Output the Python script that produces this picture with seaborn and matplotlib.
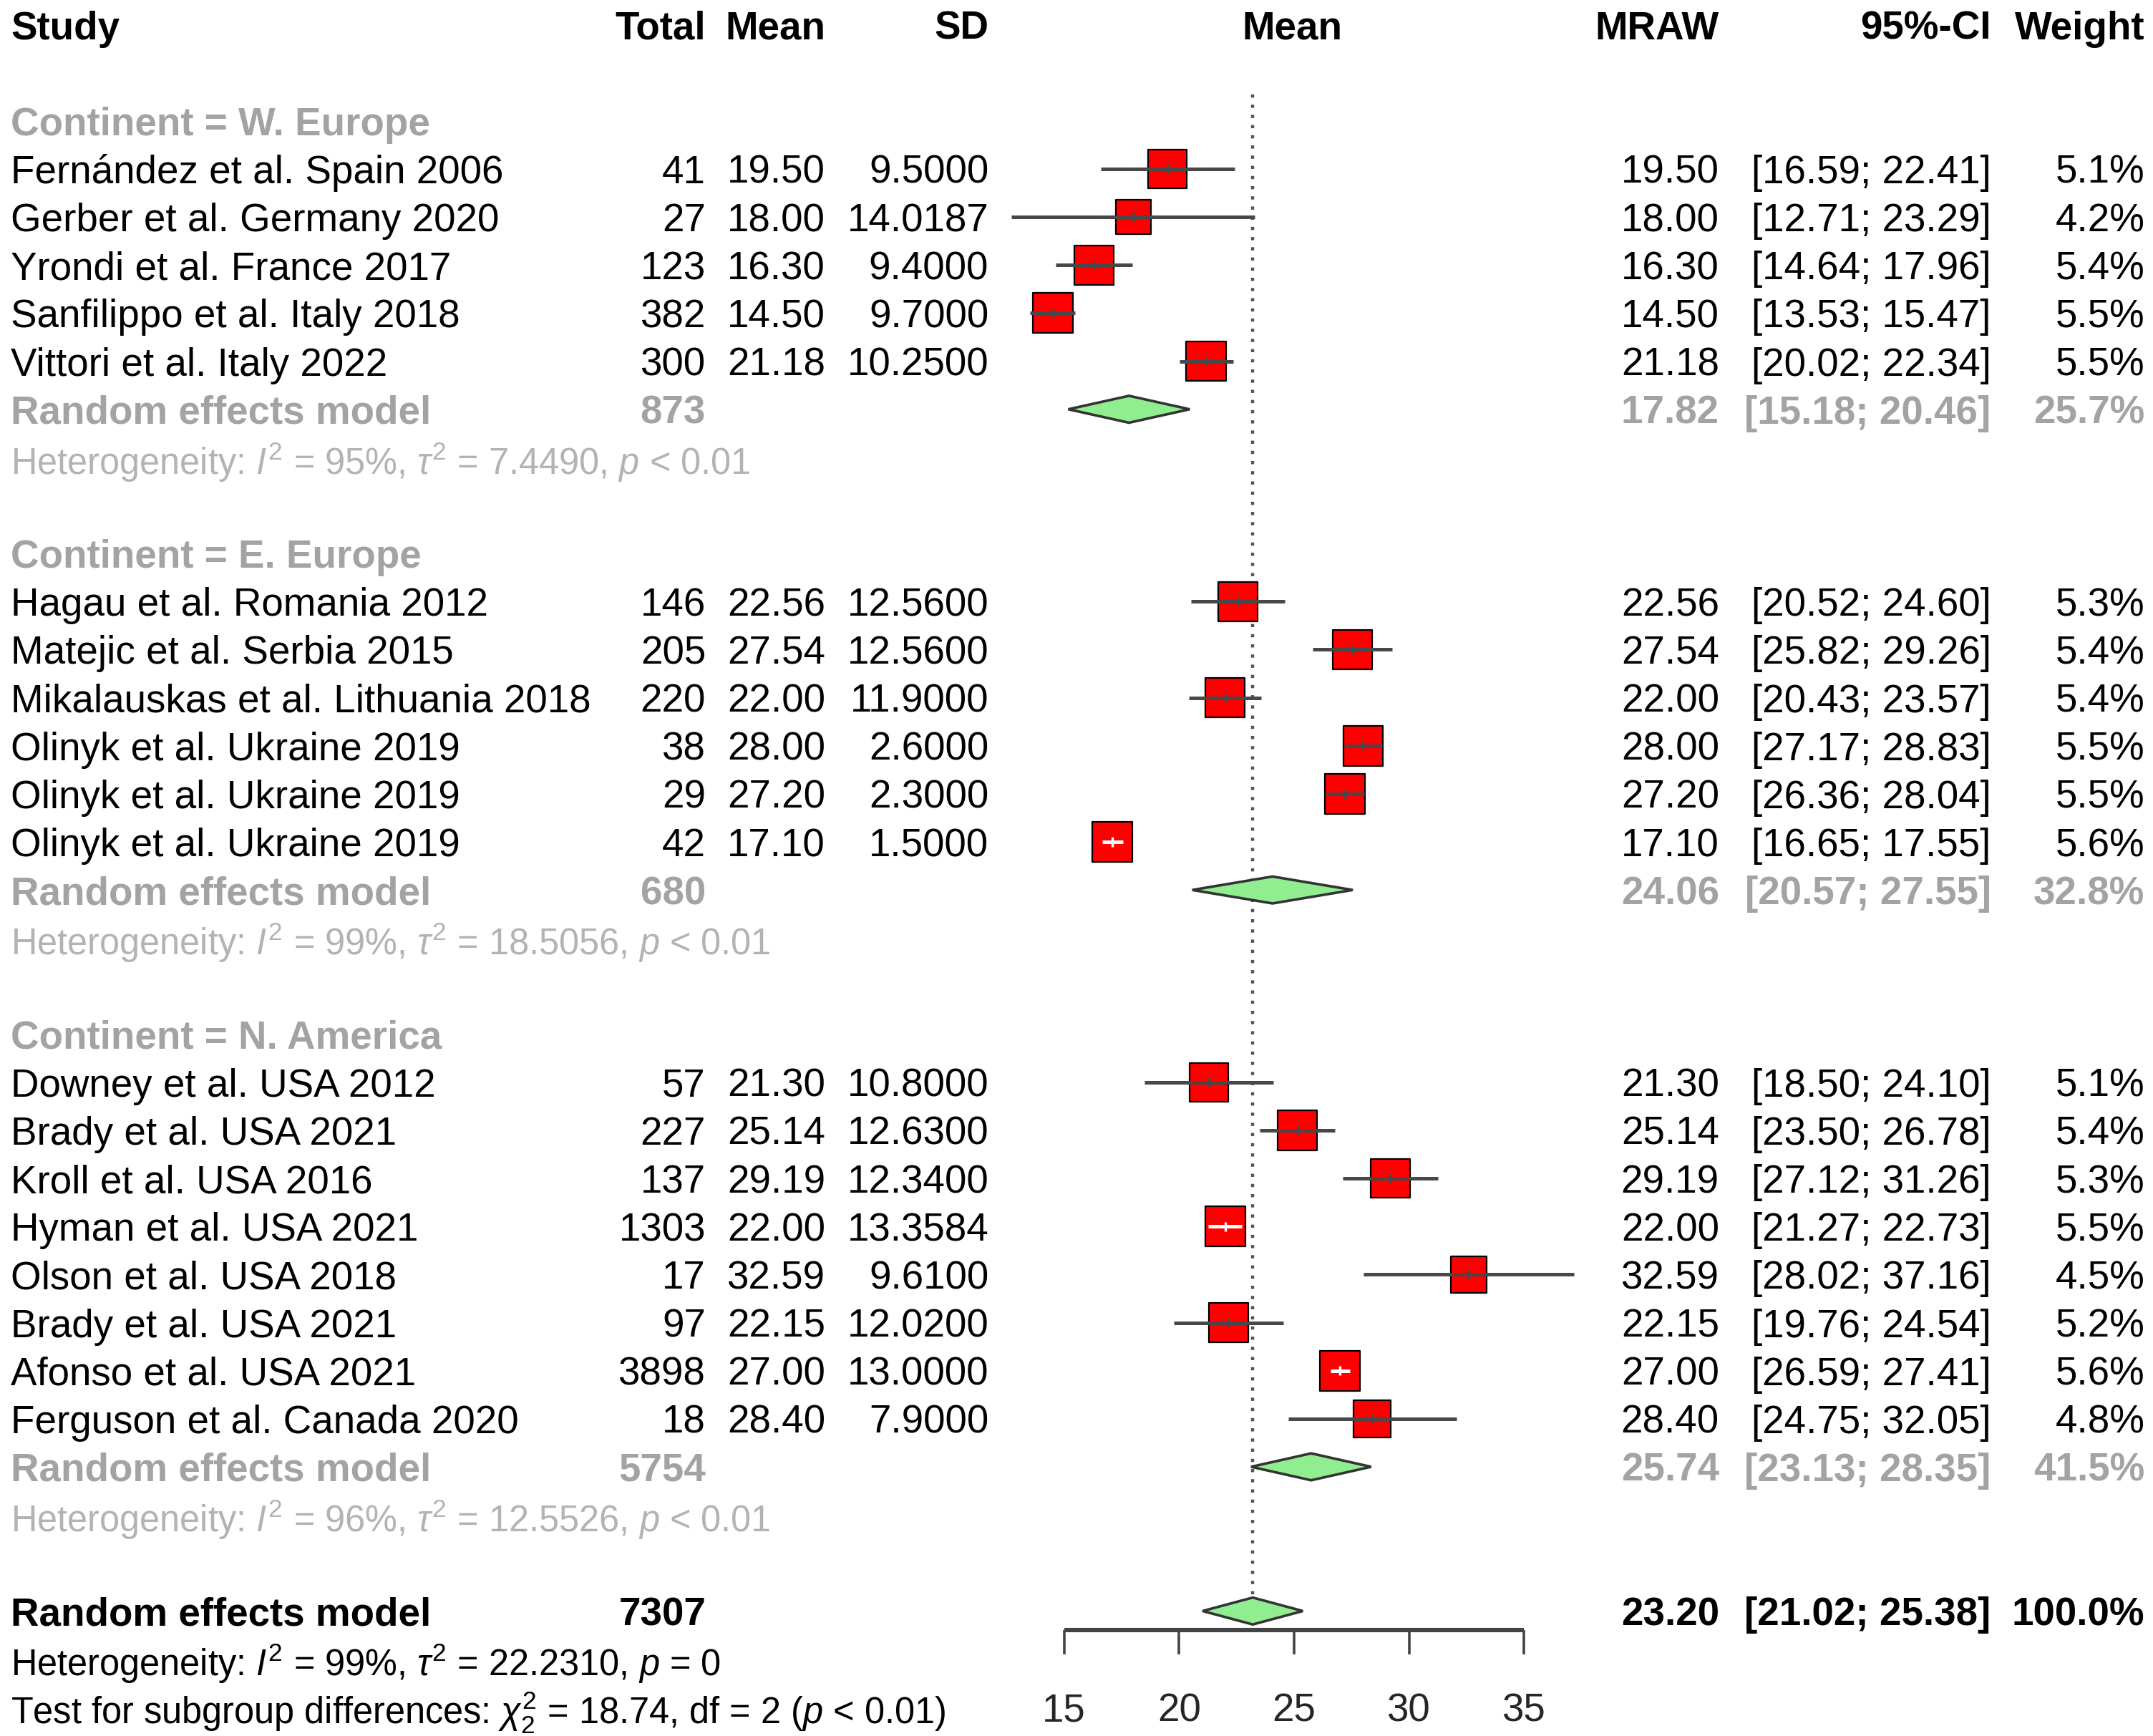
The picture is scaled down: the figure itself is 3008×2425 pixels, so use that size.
import matplotlib
matplotlib.use('Agg')
import matplotlib.pyplot as plt
import numpy as np
import pandas as pd
import seaborn as sns

# study level data
studies = ['Fernández et al. Spain 2006', 'Gerber et al. Germany 2020', 'Yrondi et al. France 2017',
           'Sanfilippo et al. Italy 2018', 'Vittori et al. Italy 2022',
           'Hagau et al. Romania 2012', 'Matejic et al. Serbia 2015', 'Mikalauskas et al. Lithuania 2018',
           'Olinyk et al. Ukraine 2019', 'Olinyk et al. Ukraine 2019', 'Olinyk et al. Ukraine 2019',
           'Downey et al. USA 2012', 'Brady et al. USA 2021', 'Kroll et al. USA 2016', 'Hyman et al. USA 2021',
           'Olson et al. USA 2018', 'Brady et al. USA 2021', 'Afonso et al. USA 2021', 'Ferguson et al. Canada 2020']
groups = ['W. Europe'] * 5 + ['E. Europe'] * 6 + ['N. America'] * 8
total = [41, 27, 123, 382, 300, 146, 205, 220, 38, 29, 42, 57, 227, 137, 1303, 17, 97, 3898, 18]
mean = [19.50, 18.00, 16.30, 14.50, 21.18, 22.56, 27.54, 22.00, 28.00, 27.20, 17.10,
        21.30, 25.14, 29.19, 22.00, 32.59, 22.15, 27.00, 28.40]
sd = [9.5, 14.0187, 9.4, 9.7, 10.25, 12.56, 12.56, 11.9, 2.6, 2.3, 1.5,
      10.8, 12.63, 12.34, 13.3584, 9.61, 12.02, 13.0, 7.9]
ci_lo = [16.59, 12.71, 14.64, 13.53, 20.02, 20.52, 25.82, 20.43, 27.17, 26.36, 16.65,
         18.50, 23.50, 27.12, 21.27, 28.02, 19.76, 26.59, 24.75]
ci_hi = [22.41, 23.29, 17.96, 15.47, 22.34, 24.60, 29.26, 23.57, 28.83, 28.04, 17.55,
         24.10, 26.78, 31.26, 22.73, 37.16, 24.54, 27.41, 32.05]
weight = [5.1, 4.2, 5.4, 5.5, 5.5, 5.3, 5.4, 5.4, 5.5, 5.5, 5.6,
          5.1, 5.4, 5.3, 5.5, 4.5, 5.2, 5.6, 4.8]

# subgroup summaries
sub_names = ['W. Europe', 'E. Europe', 'N. America']
sub_total = [873, 680, 5754]
sub_mean = [17.82, 24.06, 25.74]
sub_lo = [15.18, 20.57, 23.13]
sub_hi = [20.46, 27.55, 28.35]
sub_weight = [25.7, 32.8, 41.5]
sub_i2 = [95, 99, 96]
sub_tau2 = ['7.4490', '18.5056', '12.5526']

# overall
all_total = 7307
all_mean, all_lo, all_hi = 23.20, 21.02, 25.38
all_i2, all_tau2 = 99, '22.2310'
sub_chi2, sub_df = 18.74, 2
ticks = [15, 20, 25, 30, 35]

sns.set_theme(style='white')
plt.rcParams['font.family'] = ['Liberation Sans', 'DejaVu Sans']
plt.rcParams['mathtext.fontset'] = 'custom'
plt.rcParams['mathtext.rm'] = 'Liberation Sans'
plt.rcParams['mathtext.it'] = 'Liberation Sans:italic'
plt.rcParams['mathtext.bf'] = 'Liberation Sans:bold'

df = pd.DataFrame({'study': studies, 'group': groups, 'total': total, 'mean': mean, 'sd': sd,
                   'lo': ci_lo, 'hi': ci_hi, 'weight': weight})

# row layout
rows, head_rows, re_rows, het_rows = [], [], [], []
r = 2
for g in sub_names:
    head_rows.append(r)
    r += 1
    n = (df['group'] == g).sum()
    rows += list(range(r, r + n))
    r += n
    re_rows.append(r)
    het_rows.append(r + 1)
    r += 3
df['row'] = rows
all_row = r

W = 1568.0  # layout width in reference units
DPI = 200
fig = plt.figure(figsize=(3008 / DPI, 2425 / DPI), dpi=DPI)
ax = fig.add_axes([0, 0, 1, 1])
upp = (ticks[-1] - ticks[0]) / (1110 - 775)
ax.set_xlim(ticks[0] - 775 * upp, ticks[0] + (W - 775) * upp)
ax.set_ylim(35.6, -0.514)
ax.axis('off')
tr = ax.get_yaxis_transform()

FS = 19.7
FS_HET = 18.2
GREY = '#a3a3a3'
HGREY = '#b3b3b3'

def txt(px, row, s, ha='right', color='black', weight='normal', size=FS):
    ax.text(px / W, row, s, transform=tr, ha=ha, va='center_baseline', fontsize=size,
            color=color, fontweight=weight)

# header
for px, s, ha in [(8, 'Study', 'left'), (514, 'Total', 'right'), (601, 'Mean', 'right'),
                  (720, 'SD', 'right'), (941, 'Mean', 'center'), (1252, 'MRAW', 'right'),
                  (1450, '95%-CI', 'right'), (1562, 'Weight', 'right')]:
    txt(px, 0, s, ha=ha, weight='bold')

# study rows
for _, d in df.iterrows():
    txt(8, d['row'], d['study'], ha='left')
    txt(514, d['row'], f"{d['total']}")
    txt(601, d['row'], f"{d['mean']:.2f}")
    txt(720, d['row'], f"{d['sd']:.4f}")
    txt(1252, d['row'], f"{d['mean']:.2f}")
    txt(1450, d['row'], f"[{d['lo']:.2f}; {d['hi']:.2f}]")
    txt(1562, d['row'], f"{d['weight']:.1f}%")

# subgroup rows
for i, g in enumerate(sub_names):
    txt(8, head_rows[i], f'Continent = {g}', ha='left', color=GREY, weight='bold')
    txt(8, re_rows[i], 'Random effects model', ha='left', color=GREY, weight='bold')
    txt(514, re_rows[i], f'{sub_total[i]}', color=GREY, weight='bold')
    txt(1252, re_rows[i], f'{sub_mean[i]:.2f}', color=GREY, weight='bold')
    txt(1450, re_rows[i], f'[{sub_lo[i]:.2f}; {sub_hi[i]:.2f}]', color=GREY, weight='bold')
    txt(1562, re_rows[i], f'{sub_weight[i]:.1f}%', color=GREY, weight='bold')
    txt(8, het_rows[i], rf'Heterogeneity: $I^2$ = {sub_i2[i]}%, $\tau^2$ = {sub_tau2[i]}, $p$ < 0.01',
        ha='left', color=HGREY, size=FS_HET)

# overall rows
txt(8, all_row, 'Random effects model', ha='left', weight='bold')
txt(514, all_row, f'{all_total}', weight='bold')
txt(1252, all_row, f'{all_mean:.2f}', weight='bold')
txt(1450, all_row, f'[{all_lo:.2f}; {all_hi:.2f}]', weight='bold')
txt(1562, all_row, '100.0%', weight='bold')
txt(8, all_row + 1, rf'Heterogeneity: $I^2$ = {all_i2}%, $\tau^2$ = {all_tau2}, $p$ = 0', ha='left',
    size=FS_HET)
txt(8, all_row + 2, rf'Test for subgroup differences: $\chi^2_{sub_df}$ = {sub_chi2:.2f}, df = {sub_df} ($p$ < 0.01)',
    ha='left', size=FS_HET)

# reference line
ax.vlines(all_mean, 1.45, all_row - 0.3, colors='#555555', linestyles=(0, (1, 2.2)), lw=1.6, zorder=1)

# squares sized by weight
side_pt = 23.8 * np.sqrt(df['weight'].values) * 72 / DPI
sns.scatterplot(data=df, x='mean', y='row', marker='s', s=side_pt ** 2, color='#ff0000',
                edgecolor='black', linewidth=0.8, legend=False, ax=ax, zorder=3)

# confidence intervals, white where they sit well inside the box
half_box = side_pt / 72 * DPI / 2 * (W / 3008) * upp
inside = (df['hi'] - df['lo']) / 2 < 0.9 * half_box
line_col = np.where(inside, 'white', '#484848')
ax.hlines(df['row'], df['lo'], df['hi'], colors=line_col, lw=1.8, zorder=4)
ax.vlines(df['mean'], df['row'] - 0.1, df['row'] + 0.1, colors=line_col, lw=1.2, zorder=4)

# diamonds
h = 0.28
for i in range(len(sub_names)):
    ax.fill([sub_lo[i], sub_mean[i], sub_hi[i], sub_mean[i]],
            [re_rows[i], re_rows[i] - h, re_rows[i], re_rows[i] + h],
            facecolor='#90ee90', edgecolor='#333333', lw=1.3, zorder=3)
ax.fill([all_lo, all_mean, all_hi, all_mean], [all_row, all_row - h, all_row, all_row + h],
        facecolor='#90ee90', edgecolor='#333333', lw=1.3, zorder=3)

# x axis
ay = all_row + 0.4
ax.hlines(ay, ticks[0], ticks[-1], colors='#444444', lw=2.2)
ax.vlines(ticks, ay, ay + 0.5, colors='#444444', lw=1.3)
for t in ticks:
    ax.text(t, all_row + 2, f'{t}', ha='center', va='center_baseline', fontsize=FS)

fig.savefig('out.png', dpi=DPI)
